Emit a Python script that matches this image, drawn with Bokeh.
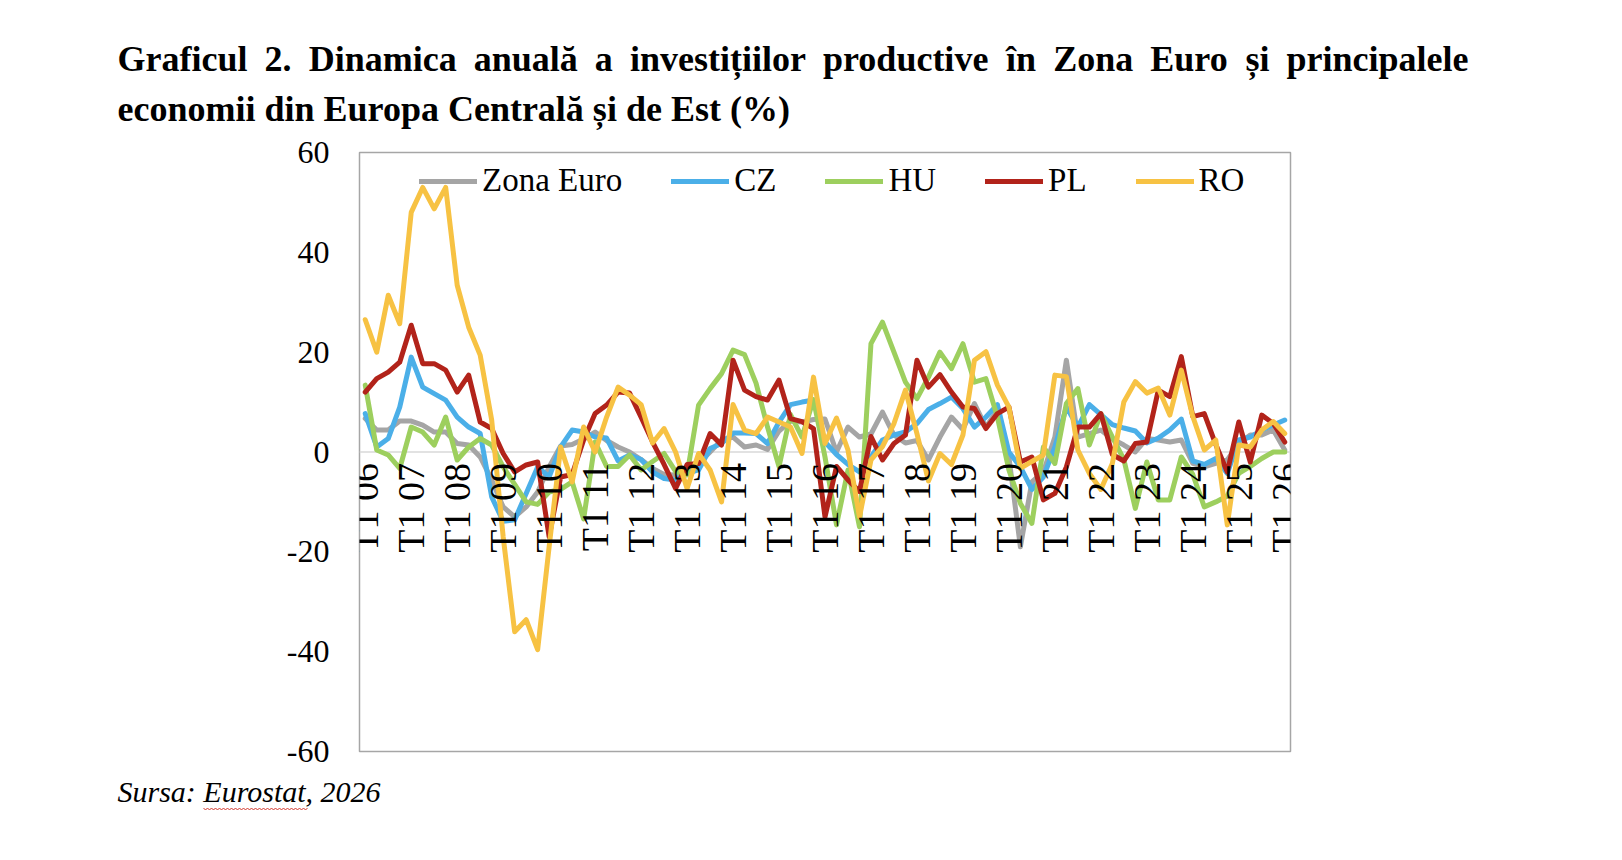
import math
from bokeh.plotting import figure
from bokeh.layouts import column
from bokeh.models import Range1d, FixedTicker, Span, Legend, LegendItem
from bokeh.core.properties import value
from bokeh.embed import file_html
from bokeh.resources import INLINE

# ---------------- data ----------------
years = [f"{y:02d}" for y in range(6, 27)]
quarters = [f"T{q} {y}" for y in years for q in (1, 2, 3, 4)][:81]
tick_labels = ["T1 06", "T1 07", "T1 08", "T1 09", "T1 10", "T1 11", "T1 12",
               "T1 13", "T1 14", "T1 15", "T1 16", "T1 17", "T1 18", "T1 19",
               "T1 20", "T1 21", "T1 22", "T1 23", "T1 24", "T1 25", "T1 26"]
y_ticks = [-60, -40, -20, 0, 20, 40, 60]

zona_euro = [6.7, 4.4, 4.4, 6.2, 6.2, 5.4, 4.0, 4.0, 1.7, 1.4,
             -1.0, -5.6, -11.0, -13.0, -11.0, -8.0, -3.0, 1.2, 1.5, 2.6,
             4.0, 2.3, 1.0, 0.0, -1.5, -3.3, -4.5, -4.6, -4.6, -2.3,
             0.0, 2.4, 3.0, 1.0, 1.4, 0.5, 4.2, 6.2, 6.0, 6.5,
             6.6, 0.0, 5.0, 3.0, 3.6, 8.0, 3.4, 1.8, 2.3, -1.6,
             3.0, 7.0, 4.5, 9.7, 5.0, 8.4, -1.0, -19.0, -6.0, -4.0,
             3.0, 18.4, 3.0, 3.7, 4.4, 2.6, 1.4, 0.0, 2.7, 2.4,
             2.0, 2.4, -2.3, -3.0, -2.3, -1.6, 1.7, 3.4, 3.4, 4.4,
             0.4]
cz = [7.7, 1.0, 2.7, 9.0, 19.0, 13.0, 11.7, 10.4, 7.0, 5.0,
      3.7, -9.0, -13.9, -13.6, -8.3, -3.0, -5.0, 1.0, 4.4, 4.0,
      3.0, 2.8, -1.8, -0.6, -1.5, -4.0, -5.3, -5.6, -4.3, -3.6,
      0.7, 1.7, 3.8, 3.8, 3.7, 1.7, 6.0, 9.5, 10.0, 10.4,
      2.0, -0.5, -2.5, -4.0, -1.0, 2.4, 3.4, 4.0, 5.7, 8.5,
      9.7, 11.0, 8.7, 5.0, 7.0, 9.5, 0.0, -3.0, -7.5, -5.0,
      1.0, 9.0, 5.0, 9.5, 7.5, 5.5, 4.8, 4.2, 1.8, 2.8,
      4.4, 6.6, -1.8, -2.5, -1.3, -4.3, 2.4, 3.0, 4.4, 5.4,
      6.4]
hu = [13.4, 0.4, -0.6, -3.3, 5.0, 4.0, 1.4, 7.0, -1.6, 1.0,
      2.7, 1.4, -3.0, -6.5, -10.0, -10.5, -8.0, -7.5, -6.0, -13.4,
      2.0, -2.9, -2.9, -0.6, -3.6, -1.9, -0.3, -3.9, -4.5, 9.4,
      12.7, 15.7, 20.4, 19.5, 13.8, 5.0, -2.9, 7.5, 3.0, 10.5,
      -1.0, -14.6, -3.6, -15.0, 21.7, 26.0, 20.0, 14.0, 10.7, 15.0,
      20.0, 16.7, 21.7, 14.0, 14.7, 7.0, -3.6, -10.3, -14.3, 1.0,
      -2.3, 9.7, 12.7, 1.4, 7.7, 3.0, -1.5, -11.3, -2.0, -9.6,
      -9.6, -1.0, -4.5, -11.0, -10.0, -8.8, -4.3, -2.9, -1.3, 0.0,
      0.0]
pl = [12.0, 14.7, 16.0, 18.0, 25.4, 17.7, 17.7, 16.4, 12.0, 15.4,
      6.0, 4.7, -0.3, -4.0, -2.6, -2.0, -17.0, -5.0, -4.5, 2.4,
      7.7, 9.4, 12.0, 11.8, 7.0, 2.0, -2.5, -7.3, -2.5, -2.3,
      3.7, 1.4, 18.4, 12.4, 11.1, 10.4, 14.4, 6.7, 6.1, 4.7,
      -13.0, -2.9, -5.6, -7.9, 3.1, -1.6, 1.7, 3.4, 18.4, 13.0,
      15.5, 12.0, 9.0, 8.7, 4.7, 7.7, 9.0, -2.0, -1.0, -9.6,
      -8.3, -3.0, 5.0, 5.0, 7.7, -0.5, -1.8, 1.7, 2.0, 12.4,
      11.1, 19.1, 7.1, 7.7, 1.5, -4.0, 6.0, -2.0, 7.4, 5.7,
      2.0]
ro = [26.5, 20.0, 31.4, 25.7, 48.0, 53.0, 48.7, 53.0, 33.4, 25.0,
      19.4, 6.4, -17.0, -36.0, -33.6, -39.6, -19.0, 1.0, -6.0, 5.0,
      0.0, 7.0, 13.0, 11.4, 9.5, 1.8, 4.7, 0.0, -7.3, -0.3,
      -3.6, -10.0, 9.5, 4.4, 3.7, 7.0, 6.0, 5.0, -0.3, 15.0,
      1.7, 6.8, 0.4, -13.0, -1.6, 1.1, 5.7, 12.4, 3.7, -5.8,
      -0.3, -2.5, 3.4, 18.4, 20.1, 13.4, 9.0, -3.3, -1.9, -0.6,
      15.4, 15.1, 0.4, -4.3, -7.5, -2.3, 10.0, 14.1, 11.8, 12.8,
      7.4, 16.4, 7.1, 0.4, 2.4, -14.6, 1.4, 1.0, 4.4, 6.1,
      3.7]

series_names = ["Zona Euro", "CZ", "HU", "PL", "RO"]
series_values = [zona_euro, cz, hu, pl, ro]
series_colors = ["#A5A5A5", "#4BAFE8", "#9DCF5E", "#B2231A", "#F7C243"]

title_line1 = "Graficul 2. Dinamica anuală a investițiilor productive în Zona Euro și principalele"
title_line2 = "economii din Europa Centrală și de Est (%)"
source_text = "Sursa: Eurostat, 2026"

# ---------------- page geometry ----------------
W = 1622
H_TOP, H_MAIN, H_BOT = 134, 636, 90          # stacked figure heights (sum 860)
FL, FR, FT, FB = 359, 1290, 152, 751           # plot frame edges on the page
TXT_SHIFT = 11                                  # renderer draws text lower than baseline y

def blank_fig(h):
    f = figure(width=W, height=h, output_backend="svg", toolbar_location=None,
               x_range=Range1d(0, W), y_range=Range1d(h, 0),
               x_axis_location=None, y_axis_location=None, title=None,
               min_border_left=0, min_border_right=0, min_border_top=0,
               min_border_bottom=0, margin=0, frame_align=False)
    f.outline_line_color = None
    f.background_fill_color = "white"
    f.border_fill_color = "white"
    f.xgrid.visible = False
    f.ygrid.visible = False
    return f

# ---------------- title (first line justified) ----------------
TB = {" ": 250, "G": 778, "r": 444, "a": 500, "f": 333, "i": 278, "c": 444,
      "u": 556, "l": 278, "2": 500, ".": 250, "D": 722, "n": 556, "m": 833,
      "ă": 500, "v": 500, "e": 444, "s": 389, "t": 333, "ț": 333, "o": 500,
      "p": 556, "d": 556, "î": 278, "Z": 667, "E": 667, "ș": 389, "C": 722,
      "(": 333, "%": 1000, ")": 333}
TS = 36
def wwidth(w):
    return sum(TB.get(ch, 500) for ch in w) * TS / 1000.0

top = blank_fig(H_TOP)
left, right = 117, 1468
words = title_line1.split(" ")
gap = (right - left - sum(wwidth(w) for w in words)) / (len(words) - 1)
wx, cx = [], left
for w in words:
    wx.append(cx)
    cx += wwidth(w) + gap
top.text(x=wx, y=[69 - TXT_SHIFT] * len(words), text=words,
         text_font=value("Liberation Serif"), text_font_style="bold",
         text_font_size=f"{TS}px", text_color="black", text_baseline="alphabetic")
top.text(x=[left], y=[119 - TXT_SHIFT], text=[title_line2],
         text_font=value("Liberation Serif"), text_font_style="bold",
         text_font_size=f"{TS}px", text_color="black", text_baseline="alphabetic")

# ---------------- main chart ----------------
x = list(range(len(quarters)))
p = figure(width=W, height=H_MAIN, output_backend="svg", toolbar_location=None,
           x_range=Range1d(-0.5, len(quarters) - 0.5), y_range=Range1d(-60, 60),
           x_axis_location=None, title=None, margin=0, frame_align=False,
           min_border_left=FL, min_border_right=W - FR,
           min_border_top=FT - H_TOP, min_border_bottom=H_TOP + H_MAIN - FB)
p.background_fill_color = "white"
p.border_fill_color = "white"
p.outline_line_color = "#A6A6A6"
p.outline_line_width = 1.5
p.xgrid.visible = False
p.ygrid.visible = False

ax = p.yaxis[0]
ax.ticker = FixedTicker(ticks=y_ticks)
ax.major_label_overrides = {t: str(t) for t in y_ticks}
ax.axis_line_color = None
ax.major_tick_line_color = None
ax.minor_tick_line_color = None
ax.major_label_standoff = 24
ax.major_label_text_font = "Liberation Serif"
ax.major_label_text_font_size = "32px"
ax.major_label_text_color = "black"

p.add_layout(Span(location=0, dimension="width", line_color="#D9D9D9",
                  line_width=1.5, level="underlay"))

items = []
for name, vals, col in zip(series_names, series_values, series_colors):
    r = p.line(x, vals, line_color=col, line_width=5, line_join="round",
               line_cap="round")
    items.append(LegendItem(label=name, renderers=[r]))

tick_x = x[::4]
p.text(x=tick_x, y=[0] * len(tick_x), text=tick_labels, angle=math.pi / 2,
       text_align="right", text_baseline="middle", y_offset=11,
       text_font=value("Liberation Serif"), text_font_size="38px",
       text_color="black")

legend = Legend(items=items, orientation="horizontal", location=(60, 552),
                glyph_width=58, glyph_height=20, label_standoff=5, spacing=49,
                padding=0, margin=0, border_line_color=None,
                background_fill_alpha=0, label_text_font="Liberation Serif",
                label_text_font_size="33px", label_text_color="black")
p.add_layout(legend)

# ---------------- source line ----------------
bot = blank_fig(H_BOT)
base = 802 - (H_TOP + H_MAIN)
bot.text(x=[117], y=[base - TXT_SHIFT], text=[source_text],
         text_font=value("Liberation Serif"), text_font_style="italic",
         text_font_size="30px", text_color="black", text_baseline="alphabetic")
# spell-check style wavy underline below the marked word
ux0, ux1 = 203, 307
zx = [ux0 + 2 * k for k in range(int((ux1 - ux0) / 2) + 1)]
zy = [base + 6 + (1.5 if k % 2 else -0.5) for k in range(len(zx))]
bot.line(zx, zy, line_color="#D2352B", line_width=1)

layout = column(top, p, bot, spacing=0)
open("out.html", "w").write(file_html(layout, INLINE))
